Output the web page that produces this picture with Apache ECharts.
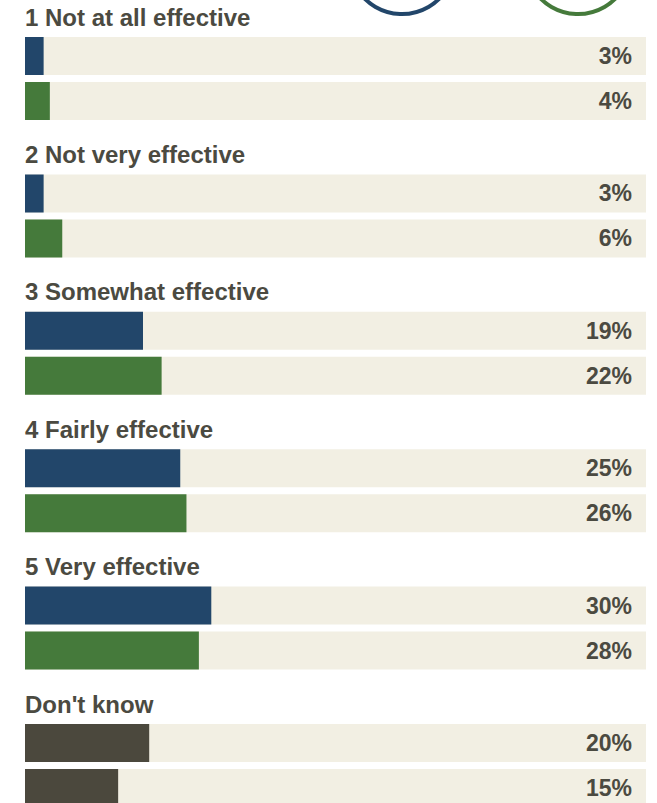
<!DOCTYPE html>
<html>
<head>
<meta charset="utf-8">
<style>
  html, body { margin: 0; padding: 0; background: #ffffff; }
  #chart { width: 657px; height: 803px; }
</style>
<script src="https://cdn.jsdelivr.net/npm/echarts@6/dist/echarts.min.js"></script>
</head>
<body>
<div id="chart"></div>
<script>
// Rating categories, one group of two bars each
const categories = [
  '1 Not at all effective',
  '2 Not very effective',
  '3 Somewhat effective',
  '4 Fairly effective',
  '5 Very effective',
  "Don't know"
];
// Share of respondents (%), first and second bar of each group
const firstValues = [3, 3, 19, 25, 30, 20];
const secondValues = [4, 6, 22, 26, 28, 15];
// Axis scale (percent)
const axisMax = 100;

const COLORS = {
  first: '#22466a',
  second: '#457a3b',
  unsure: '#4b483d',
  track: '#f2efe3',
  text: '#4b4a41'
};
const FONT = '"Liberation Sans", Arial, Helvetica, sans-serif';

const chart = echarts.init(document.getElementById('chart'), null, { renderer: 'svg' });

const groupStep = 137.4;
const gridTop0 = 33.5;
const labelY0 = 17;

const grids = [], xAxes = [], yAxes = [], series = [], graphics = [];

categories.forEach((cat, i) => {
  grids.push({
    left: 25, right: 11,
    top: gridTop0 + i * groupStep, height: 90,
    containLabel: false,
    outerBoundsMode: 'none'
  });
  xAxes.push({ gridIndex: i, type: 'value', min: 0, max: axisMax, show: false });
  yAxes.push({ gridIndex: i, type: 'category', data: ['a', 'b'], inverse: true, show: false });

  const isUnsure = i === categories.length - 1;
  const vals = [firstValues[i], secondValues[i]];
  const cols = isUnsure ? [COLORS.unsure, COLORS.unsure] : [COLORS.first, COLORS.second];

  // full-width track carrying the value label at its right end
  series.push({
    type: 'bar',
    xAxisIndex: i, yAxisIndex: i,
    barWidth: 38,
    barGap: '-100%',
    silent: true,
    itemStyle: { color: COLORS.track },
    data: [axisMax, axisMax],
    label: {
      show: true,
      position: 'insideRight',
      distance: 14,
      formatter: p => vals[p.dataIndex] + '%',
      color: COLORS.text,
      fontFamily: FONT,
      fontWeight: 'bold',
      fontSize: 23
    },
    z: 1
  });
  // value bars
  series.push({
    type: 'bar',
    xAxisIndex: i, yAxisIndex: i,
    barWidth: 38,
    barGap: '-100%',
    data: vals.map((v, k) => ({ value: v, itemStyle: { color: cols[k] } })),
    z: 2
  });

  graphics.push({
    type: 'text',
    x: 25,
    y: labelY0 + i * groupStep,
    style: {
      text: cat,
      fill: COLORS.text,
      font: 'bold 24px ' + FONT,
      verticalAlign: 'middle'
    }
  });
});

// legend badges at the top edge
graphics.push({
  type: 'circle',
  shape: { cx: 402, cy: -39, r: 53 },
  style: { fill: 'none', stroke: COLORS.first, lineWidth: 4 }
});
graphics.push({
  type: 'circle',
  shape: { cx: 578, cy: -39, r: 53 },
  style: { fill: 'none', stroke: COLORS.second, lineWidth: 4 }
});

chart.setOption({
  animation: false,
  grid: grids,
  xAxis: xAxes,
  yAxis: yAxes,
  series: series,
  graphic: graphics
});
</script>
</body>
</html>
